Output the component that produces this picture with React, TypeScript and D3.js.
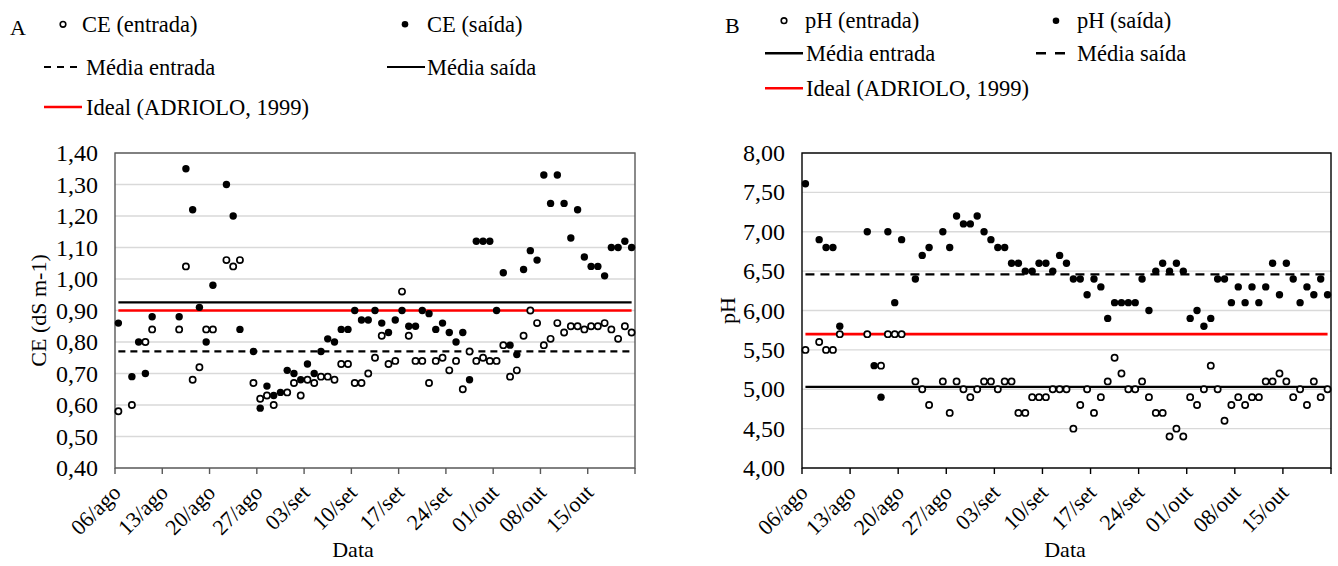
import React from "react";
import * as d3 from "d3";

const dates = [
  "06/08","08/08","09/08","10/08","11/08","15/08","16/08","17/08","18/08","19/08",
  "20/08","22/08","23/08","24/08","26/08","27/08","28/08","29/08","30/08","31/08",
  "01/09","02/09","03/09","04/09","05/09","06/09","07/09","08/09","09/09","10/09",
  "11/09","12/09","13/09","14/09","15/09","16/09","17/09","18/09","19/09","20/09",
  "21/09","22/09","23/09","24/09","25/09","26/09","27/09","28/09","29/09","30/09",
  "01/10","02/10","03/10","04/10","05/10","06/10","07/10","08/10","09/10","10/10",
  "11/10","12/10","13/10","14/10","15/10","16/10","17/10","18/10","19/10","20/10","21/10",
];

const ceEntrada = [
  0.58,0.60,null,0.80,0.84,0.84,1.04,0.68,0.72,0.84,0.84,1.06,1.04,1.06,0.67,0.62,0.63,0.60,null,0.64,
  0.67,0.63,0.68,0.67,0.69,0.69,0.68,0.73,0.73,0.67,0.67,0.70,0.75,0.82,0.73,0.74,0.96,0.82,0.74,0.74,
  0.67,0.74,0.75,0.71,0.74,0.65,0.77,0.74,0.75,0.74,
  0.74,0.79,0.69,0.71,0.82,0.90,0.86,0.79,0.81,0.86,0.83,0.85,0.85,0.84,0.85,0.85,0.86,0.84,0.81,0.85,0.83,
];
const ceSaida = [
  0.86,0.69,0.80,0.70,0.88,0.88,1.35,1.22,0.91,0.80,0.98,1.30,1.20,0.84,0.77,0.59,0.66,0.63,0.64,0.71,
  0.70,0.68,0.73,0.70,0.77,0.81,0.80,0.84,0.84,0.90,0.87,0.87,0.90,0.86,0.83,0.87,0.90,0.85,0.85,0.90,
  0.89,0.84,0.86,0.83,0.80,0.83,0.68,1.12,1.12,1.12,
  0.90,1.02,0.79,0.76,1.03,1.09,1.06,1.33,1.24,1.33,1.24,1.13,1.22,1.07,1.04,1.04,1.01,1.10,1.10,1.12,1.10,
];
const phEntrada = [
  5.50,5.60,5.50,5.50,5.70,5.70,null,5.30,5.70,5.70,5.70,5.10,5.00,4.80,5.10,4.70,5.10,5.00,4.90,5.00,
  5.10,5.10,5.00,5.10,5.10,4.70,4.70,4.90,4.90,4.90,5.00,5.00,5.00,4.50,4.80,5.00,4.70,4.90,5.10,5.40,
  5.20,5.00,5.00,5.10,4.90,4.70,4.70,4.40,4.50,4.40,
  4.90,4.80,5.00,5.30,5.00,4.60,4.80,4.90,4.80,4.90,4.90,5.10,5.10,5.20,5.10,4.90,5.00,4.80,5.10,4.90,5.00,
];
const phSaida = [
  7.61,6.90,6.80,6.80,5.80,7.00,5.30,4.90,7.00,6.10,6.90,6.40,6.70,6.80,7.00,6.80,7.20,7.10,7.10,7.20,
  7.00,6.90,6.80,6.80,6.60,6.60,6.50,6.50,6.60,6.60,6.50,6.70,6.60,6.40,6.40,6.20,6.40,6.30,5.90,6.10,
  6.10,6.10,6.10,6.40,6.00,6.50,6.60,6.50,6.60,6.50,
  5.90,6.00,5.80,5.90,6.40,6.40,6.10,6.30,6.10,6.30,6.10,6.30,6.60,6.20,6.60,6.40,6.10,6.30,6.20,6.40,6.20,
];

const ceMeans = [0.77, 0.926]; // entrada, saída
const ceIdeal = 0.9;
const phMeans = [5.03, 6.46]; // entrada, saída
const phIdeal = 5.7;

const xTickLabels = ["06/ago","13/ago","20/ago","27/ago","03/set","10/set","17/set","24/set","01/out","08/out","15/out"];
const ceTicks = [0.4,0.5,0.6,0.7,0.8,0.9,1.0,1.1,1.2,1.3,1.4];
const phTicks = [4,4.5,5,5.5,6,6.5,7,7.5,8];

const YEAR = 2019;
const parseDate = (s: string) => {
  const [d, m] = s.split("/").map(Number);
  return new Date(YEAR, m - 1, d, 12);
};
const axisStart = new Date(YEAR, 7, 6);
const axisEnd = new Date(YEAR, 9, 22);

const FONT = "'Liberation Serif', 'Times New Roman', serif";
const fmt = (v: number) => v.toFixed(2).replace(".", ",");

function T({ x, y, anchor = "start", size = 22, rotate = 0, children }: any) {
  return (
    <text
      transform={`translate(${x},${y})${rotate ? ` rotate(${rotate})` : ""}`}
      textAnchor={anchor}
      fontFamily={FONT}
      fontSize={size}
      fill="#000"
    >
      {children}
    </text>
  );
}

function Panel({ x0, x1, y0, y1, domain, ticks, entrada, saida, means, ideal, entradaDashed, border, yTitle, yTitleX, dataX }: any) {
  const x = d3.scaleTime().domain([axisStart, axisEnd]).range([x0, x1]);
  const y = d3.scaleLinear().domain(domain).range([y1, y0]);
  const tickDates = d3.timeDay.range(axisStart, d3.timeDay.offset(axisEnd, 1), 7);
  const pts = dates.map(parseDate);
  const first = pts[0];
  const last = pts[pts.length - 1];
  return (
    <g>
      {ticks.map((t: number) => (
        <line key={"g" + t} x1={x0} x2={x1} y1={y(t)} y2={y(t)} stroke="#d9d9d9" strokeWidth={1.3} />
      ))}
      <rect x={x0} y={y0} width={x1 - x0} height={y1 - y0} fill="none" stroke={border} strokeWidth={1.4} />
      {tickDates.map((d, i) => (
        <line key={"t" + i} x1={x(d)} x2={x(d)} y1={y1} y2={y1 + 6} stroke={border} strokeWidth={1.4} />
      ))}
      {xTickLabels.map((lab, i) => (
        <T key={"xl" + i} x={x(tickDates[i]) + 7} y={y1 + 26} anchor="end" size={22} rotate={-45}>
          {lab}
        </T>
      ))}
      {ticks.map((t: number) => (
        <T key={"yl" + t} x={x0 - 17} y={y(t) + 8} anchor="end" size={24}>
          {fmt(t)}
        </T>
      ))}
      <T x={yTitleX} y={(y0 + y1) / 2} anchor="middle" size={22} rotate={-90}>{yTitle}</T>
      <T x={dataX} y={557} anchor="middle" size={22}>Data</T>
      <line x1={x(first)} x2={x(last)} y1={y(means[0])} y2={y(means[0])} stroke="#000" strokeWidth={2.2}
        strokeDasharray={entradaDashed ? "7,5" : undefined} />
      <line x1={x(first)} x2={x(last)} y1={y(means[1])} y2={y(means[1])} stroke="#000" strokeWidth={2.2}
        strokeDasharray={entradaDashed ? undefined : "9,6"} />
      <line x1={x(first)} x2={x(last)} y1={y(ideal)} y2={y(ideal)} stroke="#f00" strokeWidth={2.6} />
      {entrada.map((v: number | null, i: number) =>
        v == null ? null : (
          <circle key={"e" + i} cx={x(pts[i])} cy={y(v)} r={3.1} fill="#fff" stroke="#000" strokeWidth={1.7} />
        )
      )}
      {saida.map((v: number | null, i: number) =>
        v == null ? null : <circle key={"s" + i} cx={x(pts[i])} cy={y(v)} r={3.7} fill="#000" />
      )}
    </g>
  );
}

export default function App() {
  return (
    <svg width={1338} height={566} style={{ position: "absolute", left: 0, top: 0, background: "#fff" }}>
      <rect width={1338} height={566} fill="#fff" />
      <T x={10} y={35} size={22}>A</T>
      <circle cx={63} cy={24.3} r={2.8} fill="#fff" stroke="#000" strokeWidth={1.6} />
      <T x={82} y={32} size={22.5}>CE (entrada)</T>
      <circle cx={405} cy={24.3} r={3.3} fill="#000" />
      <T x={427} y={32} size={22.5}>CE (saída)</T>
      <line x1={44} x2={82} y1={67} y2={67} stroke="#000" strokeWidth={2} strokeDasharray="7,6" />
      <T x={86} y={74.5} size={22.5}>Média entrada</T>
      <line x1={387} x2={425} y1={67} y2={67} stroke="#000" strokeWidth={2} />
      <T x={427} y={74.5} size={22.5}>Média saída</T>
      <line x1={44} x2={82} y1={107} y2={107} stroke="#f00" strokeWidth={2.4} />
      <T x={86} y={114.5} size={22.5}>Ideal (ADRIOLO, 1999)</T>

      <T x={725} y={33} size={22}>B</T>
      <circle cx={784} cy={20.7} r={2.8} fill="#fff" stroke="#000" strokeWidth={1.6} />
      <T x={805} y={28} size={22.5}>pH (entrada)</T>
      <circle cx={1056} cy={20.7} r={3.3} fill="#000" />
      <T x={1077} y={28} size={22.5}>pH (saída)</T>
      <line x1={765} x2={803} y1={53.3} y2={53.3} stroke="#000" strokeWidth={2.4} />
      <T x={806} y={61} size={22.5}>Média entrada</T>
      <line x1={1036} x2={1066} y1={53.3} y2={53.3} stroke="#000" strokeWidth={2.4} strokeDasharray="10,9" />
      <T x={1077} y={61} size={22.5}>Média saída</T>
      <line x1={765} x2={803} y1={88.3} y2={88.3} stroke="#f00" strokeWidth={2.4} />
      <T x={806} y={96} size={22.5}>Ideal (ADRIOLO, 1999)</T>

      <Panel x0={115} x1={635} y0={153} y1={468} domain={[0.4, 1.4]} ticks={ceTicks}
        entrada={ceEntrada} saida={ceSaida} means={ceMeans} ideal={ceIdeal} entradaDashed={true}
        border="#595959" yTitle="CE (dS m-1)" yTitleX={46} dataX={353} />
      <Panel x0={802} x1={1331} y0={153} y1={468} domain={[4, 8]} ticks={phTicks}
        entrada={phEntrada} saida={phSaida} means={phMeans} ideal={phIdeal} entradaDashed={false}
        border="#000" yTitle="pH" yTitleX={735} dataX={1065} />
    </svg>
  );
}
